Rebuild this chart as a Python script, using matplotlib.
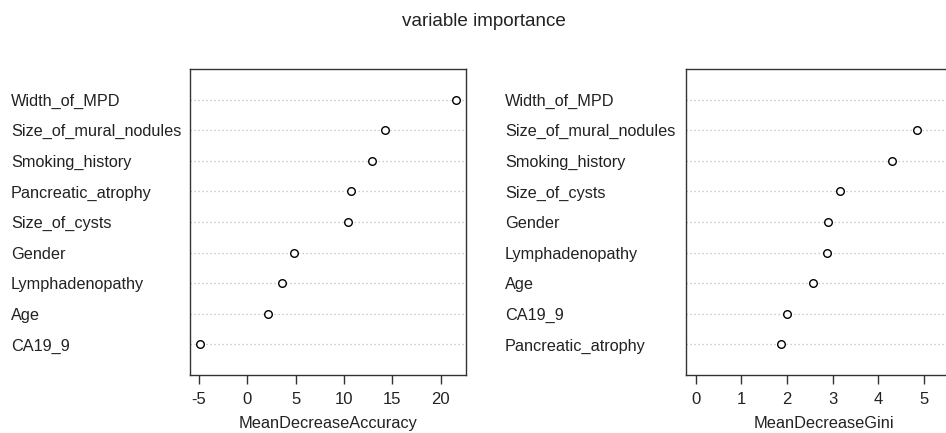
import matplotlib.pyplot as plt
import numpy as np

plt.rcParams['font.family'] = ['Liberation Sans', 'DejaVu Sans']

# MeanDecreaseAccuracy panel, top to bottom
acc_labels = ["Width_of_MPD", "Size_of_mural_nodules", "Smoking_history",
              "Pancreatic_atrophy", "Size_of_cysts", "Gender",
              "Lymphadenopathy", "Age", "CA19_9"]
acc_values = [21.55, 14.23, 12.92, 10.74, 10.42, 4.88, 3.63, 2.17, -4.86]

# MeanDecreaseGini panel, top to bottom (top value lies past the cropped edge)
gini_labels = ["Width_of_MPD", "Size_of_mural_nodules", "Smoking_history",
               "Size_of_cysts", "Gender", "Lymphadenopathy", "Age",
               "CA19_9", "Pancreatic_atrophy"]
gini_values = [5.6, 4.85, 4.31, 3.16, 2.90, 2.87, 2.57, 2.00, 1.87]

W, H = 946, 433
fig = plt.figure(figsize=(W / 100, H / 100), dpi=100)


def dotchart(rect, labels, values, xmin, xlabel, ticks, label_x):
    ax = fig.add_axes([rect[0] / W, 1 - rect[3] / H,
                       (rect[2] - rect[0]) / W, (rect[3] - rect[1]) / H])
    n = len(values)
    ypos = np.arange(n, 0, -1)
    for y in ypos:
        ax.axhline(y, color="#bdbdbd", lw=0.9, ls=(0, (1, 2.2)), zorder=1)
    ax.scatter(values, ypos, s=30, facecolors="white", edgecolors="black",
               linewidths=1.0, zorder=3)
    lo = xmin if xmin is not None else min(values)
    hi = max(values)
    pad = 0.04 * (hi - lo)
    ax.set_xlim(lo - pad, hi + pad)
    ax.set_ylim(0, n + 1)
    ax.set_xticks(ticks)
    ax.set_xticklabels([str(t) for t in ticks])
    ax.tick_params(axis="x", length=6.5, width=1, color="#333333",
                   labelsize=12, pad=6, labelcolor="#222222")
    ax.set_xlabel(xlabel, fontsize=11.8, labelpad=6, color="#222222")
    ax.set_yticks(ypos)
    ax.set_yticklabels(labels, fontsize=11.7, color="#222222")
    pad_pt = (rect[0] - label_x) * 72 / 100
    ax.tick_params(axis="y", length=0, pad=pad_pt)
    for lab in ax.get_yticklabels():
        lab.set_horizontalalignment("left")
    for sp in ax.spines.values():
        sp.set_color("#333333")
        sp.set_linewidth(1.0)
    return ax


dotchart((190, 69, 466, 375), acc_labels, acc_values, None,
         "MeanDecreaseAccuracy", [-5, 0, 5, 10, 15, 20], 11)
dotchart((685.5, 69, 961.5, 375), gini_labels, gini_values, 0,
         "MeanDecreaseGini", [0, 1, 2, 3, 4, 5], 505)

fig.text(484 / W, 1 - 21 / H, "variable importance", ha="center",
         va="center", fontsize=13.6, color="#222222")

fig.savefig("out.png", dpi=100)
